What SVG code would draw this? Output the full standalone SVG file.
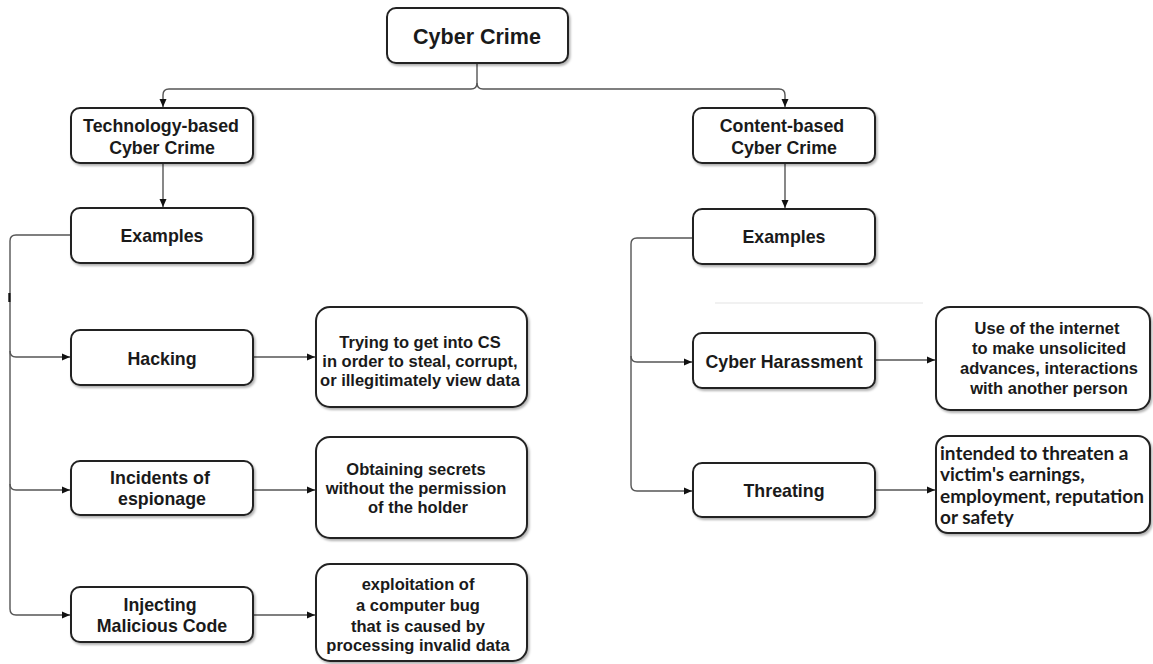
<svg xmlns="http://www.w3.org/2000/svg" width="1153" height="664" viewBox="0 0 1153 664">
<defs>
<style>
.box{fill:#fff;stroke:#222;stroke-width:2;filter:url(#sh)}
.t{font-family:"Liberation Sans",Arial,sans-serif;font-weight:bold;fill:#1a1a1a;text-anchor:middle;dominant-baseline:central}
.tt{font-size:17.8px}
.td{font-size:16.5px}
.tc{font-family:Lato,"Open Sans",sans-serif;font-weight:bold;font-size:19px;fill:#1a1a1a;dominant-baseline:central}
.c{fill:none;stroke:#555;stroke-width:1.4}
</style>
<filter id="sh" x="-10%" y="-10%" width="125%" height="130%">
<feDropShadow dx="1.5" dy="2" stdDeviation="1.2" flood-color="#000" flood-opacity="0.3"/>
</filter>
<marker id="ah" markerUnits="userSpaceOnUse" markerWidth="9" markerHeight="8" refX="8" refY="4" orient="auto">
<path d="M0,0.5 L8,4 L0,7.5 Z" fill="#111"/>
</marker>
</defs>
<rect width="1153" height="664" fill="#fff"/>
<g id="connectors">
<path class="c" d="M477,63 V83 Q477,89 471,89 H169 Q163,89 163,95 V107" marker-end="url(#ah)"/>
<path class="c" d="M477,83 Q477,89 483,89 H779 Q785,89 785,95 V107" marker-end="url(#ah)"/>
<path class="c" d="M163,163 V207" marker-end="url(#ah)"/>
<path class="c" d="M785,163 V208" marker-end="url(#ah)"/>
<path class="c" d="M71,235 H16 Q10,235 10,241 V609 Q10,615 16,615 H70" marker-end="url(#ah)"/>
<path class="c" d="M10,351 Q10,357 16,357 H70" marker-end="url(#ah)"/>
<path class="c" d="M10,484 Q10,490 16,490 H70" marker-end="url(#ah)"/>
<rect x="8.3" y="293" width="2.2" height="9" fill="#111"/>
<path class="c" d="M253,357 H315" marker-end="url(#ah)"/>
<path class="c" d="M253,490 H315" marker-end="url(#ah)"/>
<path class="c" d="M253,615 H315" marker-end="url(#ah)"/>
<path class="c" d="M693,238 H637 Q631,238 631,244 V485 Q631,491 637,491 H692" marker-end="url(#ah)"/>
<path class="c" d="M631,356 Q631,362 637,362 H692" marker-end="url(#ah)"/>
<path class="c" d="M875,360 H935" marker-end="url(#ah)"/>
<path class="c" d="M875,490 H935" marker-end="url(#ah)"/>
<path d="M715,303 H923" stroke="#ececec" stroke-width="1.5" fill="none"/>
</g>
<g id="cyber-crime">
<rect class="box" x="387" y="8" width="181" height="55" rx="9"/>
<text class="t" x="477" y="37" font-size="21.5">Cyber Crime</text>
</g>
<g id="technology-based">
<rect class="box" x="71" y="108" width="182" height="55" rx="9"/>
<text class="t tt" x="161" y="126">Technology-based</text>
<text class="t tt" x="162" y="148">Cyber Crime</text>
</g>
<g id="examples-left">
<rect class="box" x="71" y="208" width="182" height="55" rx="9"/>
<text class="t tt" x="162" y="236">Examples</text>
</g>
<g id="hacking">
<rect class="box" x="71" y="330" width="182" height="55" rx="9"/>
<text class="t tt" x="162" y="359">Hacking</text>
</g>
<g id="hacking-detail">
<rect class="box" x="316" y="307" width="211" height="100" rx="14"/>
<text class="t td" x="420" y="342">Trying to get into CS</text>
<text class="t td" x="420" y="361">in order to steal, corrupt,</text>
<text class="t td" x="420" y="380">or illegitimately view data</text>
</g>
<g id="espionage">
<rect class="box" x="71" y="461" width="182" height="54" rx="9"/>
<text class="t tt" x="160" y="478">Incidents of</text>
<text class="t tt" x="162" y="499">espionage</text>
</g>
<g id="espionage-detail">
<rect class="box" x="316" y="437" width="211" height="101" rx="14"/>
<text class="t td" x="416" y="469">Obtaining secrets</text>
<text class="t td" x="416" y="488">without the permission</text>
<text class="t td" x="418" y="507">of the holder</text>
</g>
<g id="injecting">
<rect class="box" x="71" y="587" width="182" height="55" rx="9"/>
<text class="t tt" x="160" y="605">Injecting</text>
<text class="t tt" x="162" y="626">Malicious Code</text>
</g>
<g id="injecting-detail">
<rect class="box" x="316" y="564" width="211" height="97" rx="14"/>
<text class="t td" x="418" y="584">exploitation of</text>
<text class="t td" x="418" y="605">a computer bug</text>
<text class="t td" x="418" y="626">that is caused by</text>
<text class="t td" x="418" y="645">processing invalid data</text>
</g>
<g id="content-based">
<rect class="box" x="693" y="108" width="182" height="55" rx="9"/>
<text class="t tt" x="782" y="126">Content-based</text>
<text class="t tt" x="784" y="148">Cyber Crime</text>
</g>
<g id="examples-right">
<rect class="box" x="693" y="209" width="182" height="55" rx="9"/>
<text class="t tt" x="784" y="237">Examples</text>
</g>
<g id="cyber-harassment">
<rect class="box" x="693" y="333" width="182" height="55" rx="9"/>
<text class="t tt" x="784" y="362">Cyber Harassment</text>
</g>
<g id="harassment-detail">
<rect class="box" x="936" y="307" width="214" height="103" rx="14"/>
<text class="t td" x="1047" y="328" font-size="17">Use of the internet</text>
<text class="t td" x="1049" y="348" font-size="17">to make unsolicited</text>
<text class="t td" x="1049" y="368" font-size="17">advances, interactions</text>
<text class="t td" x="1049" y="388" font-size="17">with another person</text>
</g>
<g id="threating">
<rect class="box" x="693" y="463" width="182" height="54" rx="9"/>
<text class="t tt" x="784" y="491">Threating</text>
</g>
<g id="threating-detail">
<rect class="box" x="936" y="436" width="214" height="97" rx="12"/>
<text class="tc" x="940" y="452">intended to threaten a</text>
<text class="tc" x="940" y="473">victim's earnings,</text>
<text class="tc" x="940" y="495">employment, reputation</text>
<text class="tc" x="940" y="516">or safety</text>
</g>
</svg>
